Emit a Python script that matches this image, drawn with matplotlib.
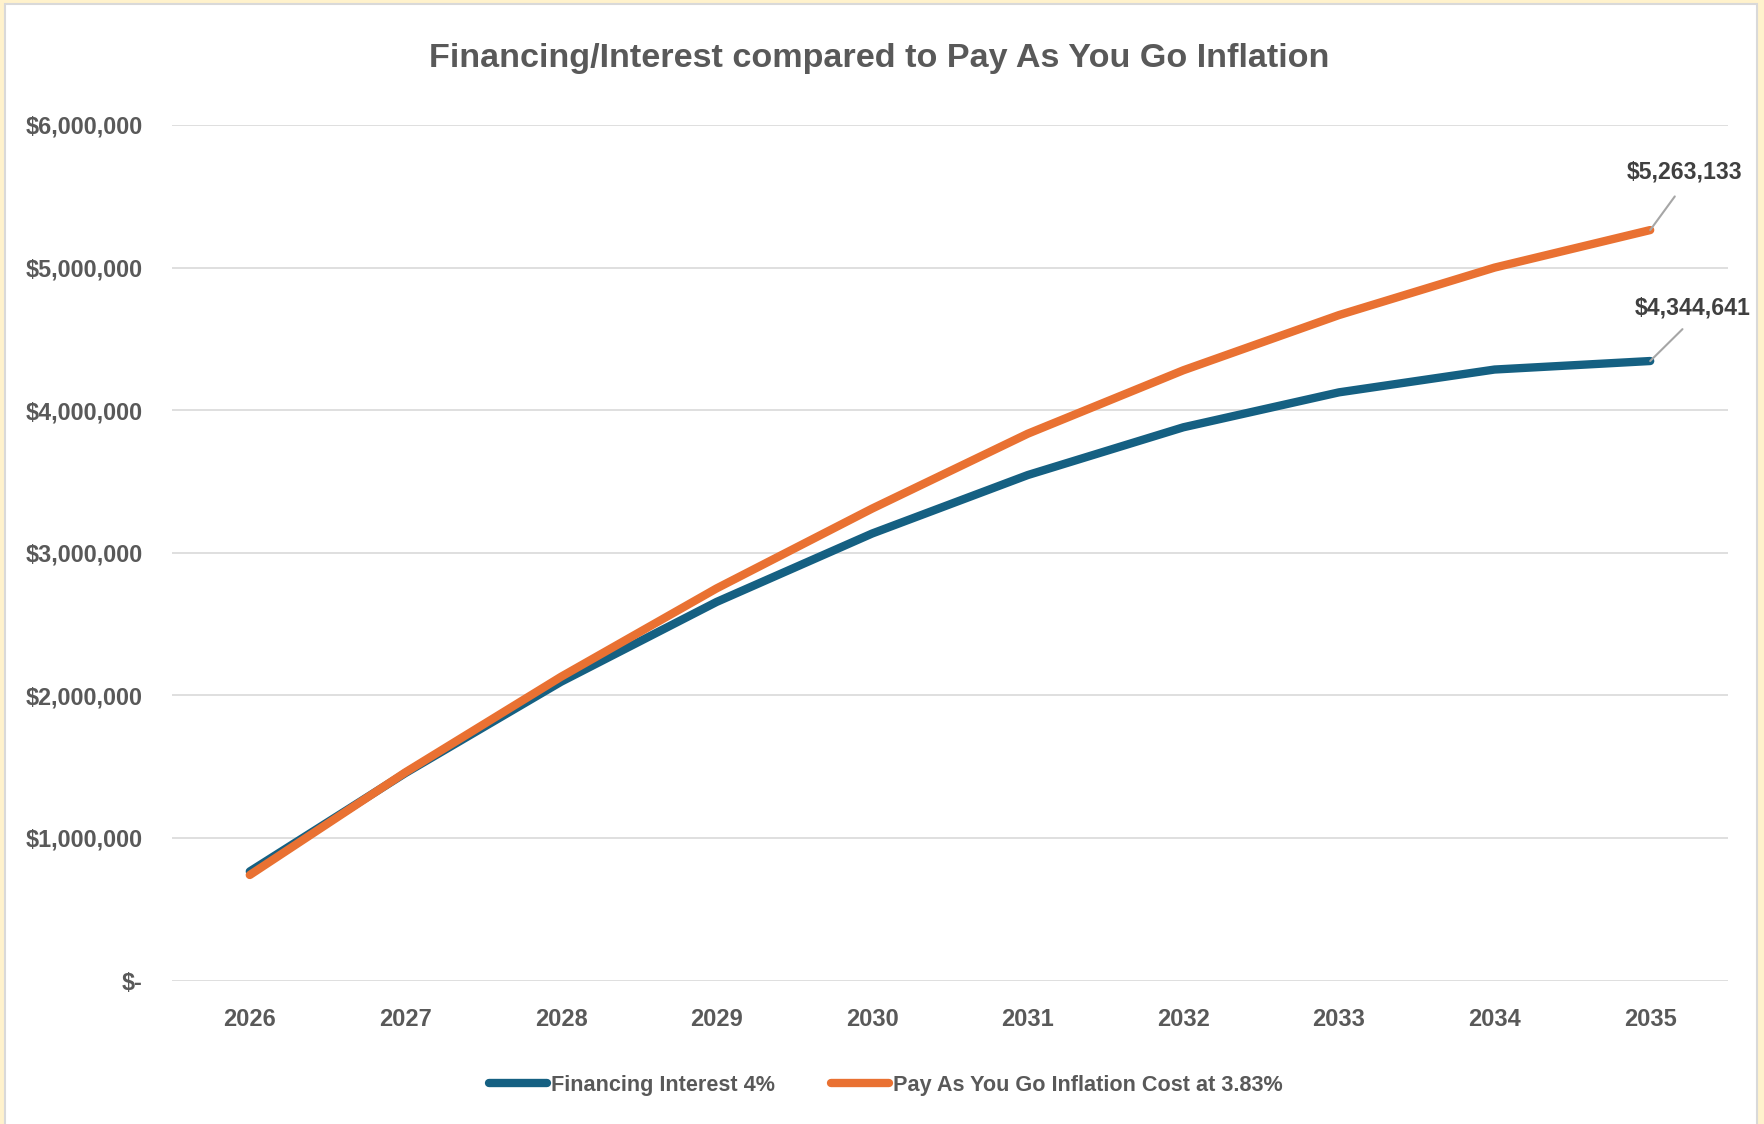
import numpy as np
import matplotlib.pyplot as plt
from matplotlib.patches import Rectangle
from matplotlib.ticker import FuncFormatter

# Cumulative cost per year for each option
years = ['2026', '2027', '2028', '2029', '2030', '2031', '2032', '2033', '2034', '2035']
financing = [765000, 1455000, 2095000, 2655000, 3135000, 3545000, 3880000, 4125000, 4285000, 4344641]
pay_go = [740000, 1460000, 2130000, 2750000, 3310000, 3835000, 4280000, 4667000, 5000000, 5263133]

plt.rcParams['font.family'] = ['Liberation Sans', 'DejaVu Sans']

W, H = 1765, 1124
fig = plt.figure(figsize=(W / 100, H / 100), dpi=100, facecolor='#FFF2CC')

# white chart panel with a thin grey edge
fig.patches.append(Rectangle((5 / W, -0.01), (1757 - 5) / W, (H - 4) / H + 0.01,
                             transform=fig.transFigure, facecolor='white',
                             edgecolor='#D9D9D9', lw=1.5, zorder=-10))

ax = fig.add_axes([172 / W, 143.5 / H, (1728 - 172) / W, (980.5 - 125) / H])
ax.set_facecolor('none')

x = np.arange(len(years))
blue = '#156082'
orange = '#E97132'
ax.plot(x, financing, color=blue, lw=6, solid_capstyle='round', solid_joinstyle='round',
        label='Financing Interest 4%')
ax.plot(x, pay_go, color=orange, lw=6, solid_capstyle='round', solid_joinstyle='round',
        label='Pay As You Go Inflation Cost at 3.83%')

ax.set_xlim(-0.5, len(years) - 0.5)
ax.set_ylim(0, 6000000)
ax.set_yticks(np.arange(0, 6000001, 1000000))
ax.yaxis.set_major_formatter(FuncFormatter(lambda v, p: '$-' if v == 0 else f'${v:,.0f}'))
ax.set_xticks(x)
ax.set_xticklabels(years)

ax.yaxis.grid(True, color='#D9D9D9', lw=1.2)
ax.set_axisbelow(True)
for s in ax.spines.values():
    s.set_visible(False)
ax.tick_params(axis='y', length=0, pad=21, labelsize=16.8, labelcolor='#595959')
ax.tick_params(axis='x', length=0, pad=19.8, labelsize=17, labelcolor='#595959')
for lab in ax.get_xticklabels() + ax.get_yticklabels():
    lab.set_fontweight('bold')

# labels on the last point of each line
ax.annotate(f'${pay_go[-1]:,.0f}', xy=(x[-1], pay_go[-1]), xytext=(34, 58),
            textcoords='offset pixels', ha='center', va='center', fontsize=16.6,
            fontweight='bold', color='#404040',
            arrowprops=dict(arrowstyle='-', color='#A6A6A6', lw=1.5, shrinkA=9, shrinkB=0,
                            relpos=(0.5, 0)))
ax.annotate(f'${financing[-1]:,.0f}', xy=(x[-1], financing[-1]), xytext=(42, 53),
            textcoords='offset pixels', ha='center', va='center', fontsize=16.6,
            fontweight='bold', color='#404040',
            arrowprops=dict(arrowstyle='-', color='#A6A6A6', lw=1.5, shrinkA=7, shrinkB=0,
                            relpos=(0.5, 0)))

fig.text(0.498, 1 - 59 / H, 'Financing/Interest compared to Pay As You Go Inflation',
         ha='center', va='center', fontsize=24.6, fontweight='bold', color='#595959')

leg = fig.legend(loc='center', bbox_to_anchor=(886 / W, 1 - 1085 / H), ncol=2, frameon=False,
                 fontsize=15.6, handlelength=2.67, handletextpad=0.18, columnspacing=2.58)
for t in leg.get_texts():
    t.set_color('#595959')
    t.set_fontweight('bold')

fig.savefig('out.png', dpi=100, facecolor=fig.get_facecolor())
